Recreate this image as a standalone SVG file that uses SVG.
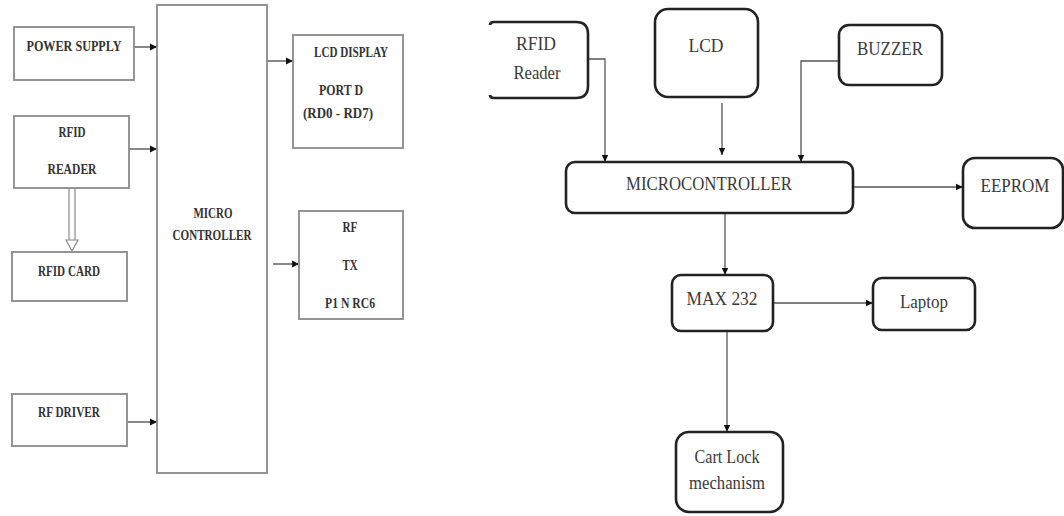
<svg xmlns="http://www.w3.org/2000/svg" width="1064" height="516" viewBox="0 0 1064 516">
<defs>
<style>
.lbox{fill:#fff;stroke:#8a8a8a;stroke-width:1.8}
.ltxt{font-family:"Liberation Serif",serif;font-weight:bold;font-size:14px;fill:#333;text-anchor:middle}
.rbox{fill:#fff;stroke:#222;stroke-width:2.6}
.rtxt{font-family:"Liberation Serif",serif;font-size:18px;fill:#3a3a3a;text-anchor:middle}
.lcon{fill:none;stroke:#555;stroke-width:1.4}
.rcon{fill:none;stroke:#555;stroke-width:1.3}
</style>
<marker id="la" markerUnits="userSpaceOnUse" markerWidth="8" markerHeight="8" refX="7" refY="4" orient="auto">
<path d="M0,0.5 L7,4 L0,7.5 Z" fill="#111"/>
</marker>
<marker id="ra" markerUnits="userSpaceOnUse" markerWidth="8" markerHeight="8" refX="7" refY="4" orient="auto">
<path d="M0,0.8 L7,4 L0,7.2 Z" fill="#111"/>
</marker>
</defs>
<rect width="1064" height="516" fill="#fff"/>

<g id="connectors">
<line class="lcon" x1="134" y1="47" x2="157" y2="47" marker-end="url(#la)"/>
<line class="lcon" x1="129" y1="149" x2="157" y2="149" marker-end="url(#la)"/>
<line class="lcon" x1="128" y1="422" x2="157" y2="422" marker-end="url(#la)"/>
<line class="lcon" x1="267" y1="61" x2="293" y2="61" marker-end="url(#la)"/>
<line class="lcon" x1="273" y1="264" x2="299" y2="264" marker-end="url(#la)"/>
<path d="M69,188 V240 M75,188 V240 M66,240 L72,251 L78,240 Z" fill="#fff" stroke="#8a8a8a" stroke-width="1.2"/>
<path class="rcon" d="M588,59 H605 V162" marker-end="url(#ra)"/>
<line class="rcon" x1="722" y1="103" x2="722" y2="155" marker-end="url(#ra)"/>
<path class="rcon" d="M839,61 H801 V162" marker-end="url(#ra)"/>
<line class="rcon" x1="853" y1="187" x2="963" y2="187" stroke-width="1.8" marker-end="url(#ra)"/>
<line class="rcon" x1="725" y1="213" x2="725" y2="275" marker-end="url(#ra)"/>
<line class="rcon" x1="773" y1="303" x2="873" y2="303" stroke-width="1.8" marker-end="url(#ra)"/>
<line class="rcon" x1="727" y1="331" x2="727" y2="432" marker-end="url(#ra)"/>
</g>

<g id="power-supply">
<rect class="lbox" x="14" y="27" width="120" height="53"/>
<text class="ltxt" x="74" y="51" textLength="95" lengthAdjust="spacingAndGlyphs">POWER SUPPLY</text>
</g>
<g id="rfid-reader-left">
<rect class="lbox" x="14" y="116" width="115" height="72"/>
<text class="ltxt" x="72" y="137" textLength="27" lengthAdjust="spacingAndGlyphs">RFID</text>
<text class="ltxt" x="72" y="174" textLength="49" lengthAdjust="spacingAndGlyphs">READER</text>
</g>
<g id="rfid-card">
<rect class="lbox" x="12" y="252" width="115" height="49"/>
<text class="ltxt" x="69" y="276" textLength="62" lengthAdjust="spacingAndGlyphs">RFID CARD</text>
</g>
<g id="rf-driver">
<rect class="lbox" x="12" y="394" width="115" height="52"/>
<text class="ltxt" x="69" y="417" textLength="62" lengthAdjust="spacingAndGlyphs">RF DRIVER</text>
</g>
<g id="micro-controller-left">
<rect class="lbox" x="157" y="5" width="110" height="468"/>
<text class="ltxt" x="213" y="218" textLength="39" lengthAdjust="spacingAndGlyphs">MICRO</text>
<text class="ltxt" x="212" y="240" textLength="79" lengthAdjust="spacingAndGlyphs">CONTROLLER</text>
</g>
<g id="lcd-display">
<rect class="lbox" x="293" y="35" width="110" height="113"/>
<text class="ltxt" x="351" y="57" textLength="74" lengthAdjust="spacingAndGlyphs">LCD DISPLAY</text>
<text class="ltxt" x="341" y="95" textLength="44" lengthAdjust="spacingAndGlyphs">PORT D</text>
<text class="ltxt" x="338" y="118" textLength="70" lengthAdjust="spacingAndGlyphs">(RD0 - RD7)</text>
</g>
<g id="rf-tx">
<rect class="lbox" x="299" y="211" width="104" height="108"/>
<text class="ltxt" x="350" y="232" textLength="15" lengthAdjust="spacingAndGlyphs">RF</text>
<text class="ltxt" x="350" y="270" textLength="15" lengthAdjust="spacingAndGlyphs">TX</text>
<text class="ltxt" x="350" y="308" textLength="50" lengthAdjust="spacingAndGlyphs">P1 N RC6</text>
</g>

<g id="rfid-reader">
<path class="rbox" d="M490,25 Q490,22 494,22 H576 Q588,22 588,34 V86 Q588,98 576,98 H494 Q490,98 490,95"/>
<text class="rtxt" x="536" y="50" textLength="40" lengthAdjust="spacingAndGlyphs">RFID</text>
<text class="rtxt" x="537" y="79" font-size="17" textLength="47" lengthAdjust="spacingAndGlyphs">Reader</text>
</g>
<g id="lcd">
<rect class="rbox" x="655" y="9" width="103" height="88" rx="13"/>
<text class="rtxt" x="706" y="52" textLength="35" lengthAdjust="spacingAndGlyphs">LCD</text>
</g>
<g id="buzzer">
<rect class="rbox" x="839" y="25" width="103" height="60" rx="10"/>
<text class="rtxt" x="890" y="55" font-size="17" textLength="66" lengthAdjust="spacingAndGlyphs">BUZZER</text>
</g>
<g id="microcontroller">
<rect class="rbox" x="566" y="162" width="287" height="51" rx="9"/>
<text class="rtxt" x="709" y="190" textLength="166" lengthAdjust="spacingAndGlyphs">MICROCONTROLLER</text>
</g>
<g id="eeprom">
<rect class="rbox" x="963" y="158" width="100" height="70" rx="12"/>
<text class="rtxt" x="1015" y="192" font-size="17" textLength="69" lengthAdjust="spacingAndGlyphs">EEPROM</text>
</g>
<g id="max232">
<rect class="rbox" x="672" y="275" width="101" height="56" rx="9"/>
<text class="rtxt" x="722" y="305" textLength="71" lengthAdjust="spacingAndGlyphs">MAX 232</text>
</g>
<g id="laptop">
<rect class="rbox" x="873" y="278" width="102" height="52" rx="9"/>
<text class="rtxt" x="924" y="308" textLength="48" lengthAdjust="spacingAndGlyphs">Laptop</text>
</g>
<g id="cart-lock">
<rect class="rbox" x="676" y="432" width="107" height="80" rx="13"/>
<text class="rtxt" x="727" y="463" font-size="17" textLength="65" lengthAdjust="spacingAndGlyphs">Cart Lock</text>
<text class="rtxt" x="727" y="489" font-size="17" textLength="76" lengthAdjust="spacingAndGlyphs">mechanism</text>
</g>
</svg>
